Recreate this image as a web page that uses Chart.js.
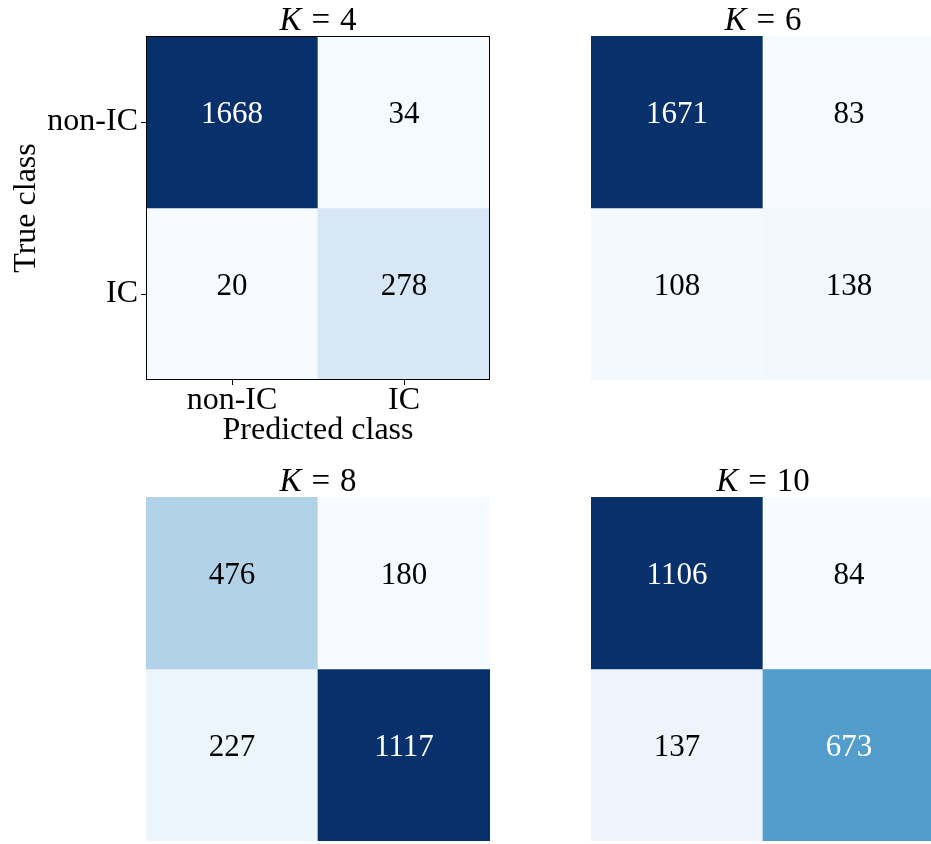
<!DOCTYPE html>
<html>
<head>
<meta charset="utf-8">
<script src="https://cdn.jsdelivr.net/npm/chart.js@4.4.1/dist/chart.umd.min.js"></script>
<style>
  html, body { margin: 0; padding: 0; background: #fff; overflow: hidden; }
  #wrap { position: relative; width: 931px; height: 844px; overflow: hidden; }
  canvas { position: absolute; }
</style>
</head>
<body>
<div id="wrap">
  <canvas id="cm4" width="500" height="460" style="left:0;top:0"></canvas>
  <canvas id="cm6" width="344" height="380" style="left:591px;top:0"></canvas>
  <canvas id="cm8" width="344" height="380" style="left:146px;top:461px"></canvas>
  <canvas id="cm10" width="344" height="380" style="left:591px;top:461px"></canvas>
</div>
<script>
const classNames = ['non-IC', 'IC'];
const kValues = [4, 6, 8, 10];
// rows = true class, columns = predicted class
const countsK4 = [[1668, 34], [20, 278]];
const countsK6 = [[1671, 83], [108, 138]];
const countsK8 = [[476, 180], [227, 1117]];
const countsK10 = [[1106, 84], [137, 673]];

const FONT = '"Liberation Serif", "Times New Roman", serif';

// matplotlib "Blues" control colours
const BLUES = ['#f7fbff', '#deebf7', '#c6dbef', '#9ecae1', '#6baed6',
               '#4292c6', '#2171b5', '#08519c', '#08306b'];

function hexToRgb(h) {
  return [1, 3, 5].map(i => parseInt(h.slice(i, i + 2), 16));
}

function blues(t) {
  t = Math.max(0, Math.min(1, t));
  const pos = t * (BLUES.length - 1);
  const i = Math.min(Math.floor(pos), BLUES.length - 2);
  const f = pos - i;
  const a = hexToRgb(BLUES[i]), b = hexToRgb(BLUES[i + 1]);
  const c = a.map((v, j) => Math.round(v + (b[j] - v) * f));
  return `rgb(${c[0]}, ${c[1]}, ${c[2]})`;
}

function makeChart(canvasId, k, counts, withAxes) {
  const flat = counts.flat();
  const lo = Math.min(...flat), hi = Math.max(...flat);
  const thresh = (lo + hi) / 2;

  // one floating bar per cell: row r spans [r, r + 1] on the reversed y axis
  const datasets = counts.map((row, r) => ({
    label: classNames[r],
    data: row.map(() => [r, r + 1]),
    backgroundColor: row.map(v => blues((v - lo) / (hi - lo))),
    borderWidth: 0,
    grouped: false,
    barPercentage: 1,
    categoryPercentage: 1
  }));

  const cellText = {
    id: 'cellText',
    afterDatasetsDraw(chart) {
      const ctx = chart.ctx;
      ctx.save();
      ctx.font = `31px ${FONT}`;
      ctx.textAlign = 'center';
      ctx.textBaseline = 'alphabetic';
      counts.forEach((row, r) => {
        const meta = chart.getDatasetMeta(r);
        row.forEach((v, c) => {
          const el = meta.data[c];
          const cy = (el.y + el.base) / 2;
          ctx.fillStyle = v > thresh ? '#ffffff' : '#000000';
          ctx.fillText(String(v), el.x, cy + 1);
        });
      });
      ctx.restore();
    },
    afterDraw(chart) {
      const { ctx, chartArea: a } = chart;
      ctx.save();
      // panel title: italic K, then "= k"
      const size = 33;
      const gap = size * 0.3;
      ctx.font = `italic ${size}px ${FONT}`;
      const wK = ctx.measureText('K').width;
      ctx.font = `${size}px ${FONT}`;
      const wEq = ctx.measureText('=').width;
      const wNum = ctx.measureText(String(k)).width;
      const total = wK + gap + wEq + gap + wNum;
      let x = (a.left + a.right) / 2 - total / 2;
      const y = a.top - 6;
      ctx.fillStyle = '#000';
      ctx.textAlign = 'left';
      ctx.textBaseline = 'alphabetic';
      ctx.font = `italic ${size}px ${FONT}`;
      ctx.fillText('K', x, y);
      x += wK + gap;
      ctx.font = `${size}px ${FONT}`;
      ctx.fillText('=', x, y);
      x += wEq + gap;
      ctx.fillText(String(k), x, y);

      if (withAxes) {
        ctx.strokeStyle = '#000';
        ctx.lineWidth = 1;
        ctx.strokeRect(a.left + 0.5, a.top + 0.5, a.width - 1, a.height - 1);
      }
      ctx.restore();
    }
  };

  const tickFont = { family: FONT, size: 32, lineHeight: 1 };
  const titleFont = { family: FONT, size: 32, lineHeight: 1.2 };
  const tickGrid = {
    display: true, offset: false, drawOnChartArea: false, drawTicks: true,
    tickLength: 5, tickColor: '#000', tickWidth: 1
  };

  return new Chart(document.getElementById(canvasId), {
    type: 'bar',
    data: { labels: classNames, datasets },
    options: {
      responsive: false,
      animation: false,
      devicePixelRatio: 1,
      layout: { padding: { top: 36, right: withAxes ? 10 : 0, left: 0, bottom: 0 } },
      plugins: {
        legend: { display: false },
        title: { display: false },
        tooltip: { enabled: false }
      },
      scales: {
        x: {
          type: 'category',
          offset: true,
          display: withAxes,
          grid: tickGrid,
          border: { display: false },
          ticks: { color: '#000', font: tickFont, padding: 0, maxRotation: 0, autoSkip: false },
          title: {
            display: true, text: 'Predicted class', color: '#000',
            font: titleFont, padding: { top: 0, bottom: 10 }
          },
          afterFit(s) { s.height = withAxes ? 80 : 0; }
        },
        y: {
          type: 'linear',
          min: 0,
          max: 2,
          reverse: true,
          display: withAxes,
          afterBuildTicks(s) { s.ticks = [{ value: 0.5 }, { value: 1.5 }]; },
          grid: tickGrid,
          border: { display: false },
          ticks: {
            color: '#000', font: tickFont, padding: 3,
            callback: v => classNames[Math.floor(v)]
          },
          title: {
            display: true, text: 'True class', color: '#000',
            font: titleFont, padding: { top: 7, bottom: 0 }
          },
          afterFit(s) { s.width = withAxes ? 146 : 0; }
        }
      }
    },
    plugins: [cellText]
  });
}

makeChart('cm4', kValues[0], countsK4, true);
makeChart('cm6', kValues[1], countsK6, false);
makeChart('cm8', kValues[2], countsK8, false);
makeChart('cm10', kValues[3], countsK10, false);
</script>
</body>
</html>
